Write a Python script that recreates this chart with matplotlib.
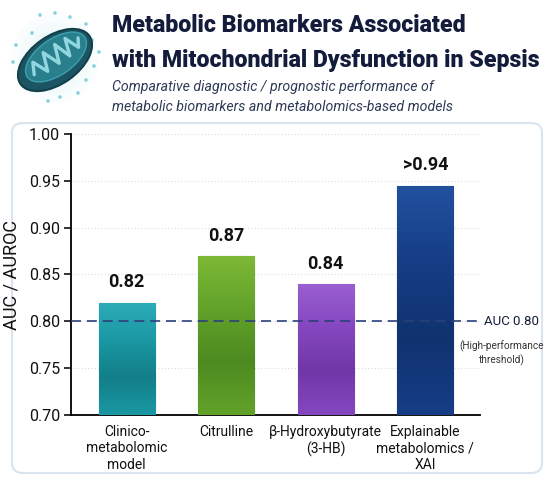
import numpy as np
import matplotlib
matplotlib.use("Agg")
import matplotlib.pyplot as plt
from matplotlib.patches import FancyBboxPatch, Ellipse, Circle
from matplotlib.path import Path
from matplotlib.patches import PathPatch
import matplotlib.transforms as mtransforms

# Chart data
categories = ["Clinico-\nmetabolomic\nmodel", "Citrulline",
              "β-Hydroxybutyrate\n(3-HB)", "Explainable\nmetabolomics /\nXAI"]
auc_values = [0.82, 0.87, 0.84, 0.945]
value_labels = ["0.82", "0.87", "0.84", ">0.94"]
bar_colors = ["#1a98a3", "#62a22a", "#8547bf", "#163d86"]
bar_light = ["#2cacb7", "#7db936", "#9a5fd2", "#21519e"]
bar_dark = ["#127f89", "#4d8a20", "#7037a8", "#10326f"]
threshold = 0.80
y_ticks = [0.70, 0.75, 0.80, 0.85, 0.90, 0.95, 1.00]

plt.rcParams["font.family"] = ["Roboto", "DejaVu Sans"]

W, H = 550, 484
fig = plt.figure(figsize=(W / 100, H / 100), dpi=100)
fig.patch.set_facecolor("white")

# background card
card = FancyBboxPatch((12 / W, 1 - 473 / H), 530 / W, 350 / H,
                      boxstyle="round,pad=0,rounding_size=0.02",
                      transform=fig.transFigure, facecolor="white",
                      edgecolor="#d9e4ee", linewidth=1.5, zorder=-5)
fig.patches.append(card)

# title + subtitle
fig.text(112 / W, 1 - 26 / H, "Metabolic Biomarkers Associated",
         fontsize=16.7, fontweight="heavy", color="#141c3c", va="center", ha="left")
fig.text(112 / W, 1 - 60 / H, "with Mitochondrial Dysfunction in Sepsis",
         fontsize=16.7, fontweight="heavy", color="#141c3c", va="center", ha="left")
fig.text(112 / W, 1 - 87 / H, "Comparative diagnostic / prognostic performance of",
         fontsize=10.2, style="italic", color="#2e3a55", va="center", ha="left")
fig.text(112 / W, 1 - 107 / H, "metabolic biomarkers and metabolomics-based models",
         fontsize=10.2, style="italic", color="#2e3a55", va="center", ha="left")

# mitochondrion icon
iax = fig.add_axes([0, 1 - 110 / H, 110 / W, 110 / H])
iax.set_xlim(0, 110)
iax.set_ylim(110, 0)
iax.axis("off")
for r, a in [(44, 0.05), (36, 0.06), (28, 0.07)]:
    iax.add_patch(Circle((55, 58), r, color="#9fdde6", alpha=a, lw=0))
dots = [(40, 15), (55, 13), (70, 17), (32, 33), (16, 45), (13, 62), (86, 24),
        (92, 40), (94, 66), (86, 80), (78, 93), (60, 97), (48, 101), (24, 82), (99, 52)]
for dx, dy in dots:
    iax.add_patch(Circle((dx, dy), 1.8, color="#55bfcc", alpha=0.7, lw=0))
iax.add_patch(Ellipse((55, 60), 84, 48, angle=-35, facecolor="#1b5564",
                      edgecolor="#123f4a", lw=1.5))
iax.add_patch(Ellipse((56, 57), 70, 36, angle=-35, facecolor="#2a7f8d",
                      edgecolor="#3fa0ad", lw=1))
zz = [(-28, 2), (-22, -9), (-15, 7), (-8, -11), (-1, 7), (6, -11), (12, 7),
      (18, -10), (24, 5), (29, -3)]
rot = mtransforms.Affine2D().rotate_deg(-35).translate(56, 57)
pts = rot.transform(np.array(zz, dtype=float))
iax.add_patch(PathPatch(Path(pts), fill=False, edgecolor="#8fd6df", lw=2.4,
                        joinstyle="round", capstyle="round"))

# main axes
ax = fig.add_axes([71 / W, 1 - 415 / H, (480 - 71) / W, (415 - 134) / H])
ax.set_facecolor("none")
x = np.arange(len(categories))
bars = ax.bar(x, [v - 0.70 for v in auc_values], bottom=0.70, width=0.565,
              color=bar_colors, edgecolor=bar_dark, linewidth=0.8, zorder=3)

# soft vertical gradient inside each bar
for b, c0, c1 in zip(bars, bar_light, bar_dark):
    cmap = matplotlib.colors.LinearSegmentedColormap.from_list(
        "g", [b.get_facecolor(), c1, b.get_facecolor(), c0])
    bx, by, bw, bh = b.get_x(), b.get_y(), b.get_width(), b.get_height()
    grad = np.linspace(0, 1, 100).reshape(-1, 1)
    im = ax.imshow(grad, extent=[bx, bx + bw, by, by + bh], origin="lower",
                   cmap=cmap, aspect="auto", zorder=3.5)
    im.set_clip_path(b)

for xi, v, lab in zip(x, auc_values, value_labels):
    ax.text(xi, v + 0.012, lab, ha="center", va="bottom", fontsize=13,
            fontweight="bold", color="#111111", zorder=5)

ax.axhline(threshold, color="#2c3f7a", lw=1.2, dashes=(6, 3.5), zorder=4)
ax.text(1.01, threshold, "AUC 0.80", transform=ax.get_yaxis_transform(),
        ha="left", va="center", fontsize=9.5, color="#141c3c", clip_on=False)
ax.text(1.054, threshold - 0.02, "(High-performance\nthreshold)",
        transform=ax.get_yaxis_transform(), ha="center", va="top",
        fontsize=7.2, color="#333333", linespacing=1.35, multialignment="center",
        clip_on=False)

ax.set_xlim(-0.56, 3.55)
ax.set_ylim(0.70, 1.00)
ax.set_yticks(y_ticks)
ax.set_yticklabels([f"{t:.2f}" for t in y_ticks])
ax.set_xticks(x)
ax.set_xticklabels(categories, fontsize=10, linespacing=1.25, color="#111111")
ax.tick_params(axis="x", length=0, pad=7)
ax.tick_params(axis="y", length=5, width=1.2, labelsize=11.5, colors="#111111", pad=3)
ax.set_ylabel("AUC / AUROC", fontsize=13, color="#111111", labelpad=6)
ax.yaxis.grid(True, linestyle=(0, (1, 2)), color="#dddddd", lw=0.8, zorder=0)
for s in ["top", "right"]:
    ax.spines[s].set_visible(False)
ax.spines["left"].set_linewidth(1.3)
ax.spines["bottom"].set_linewidth(1.3)

fig.savefig("out.png", dpi=100)
